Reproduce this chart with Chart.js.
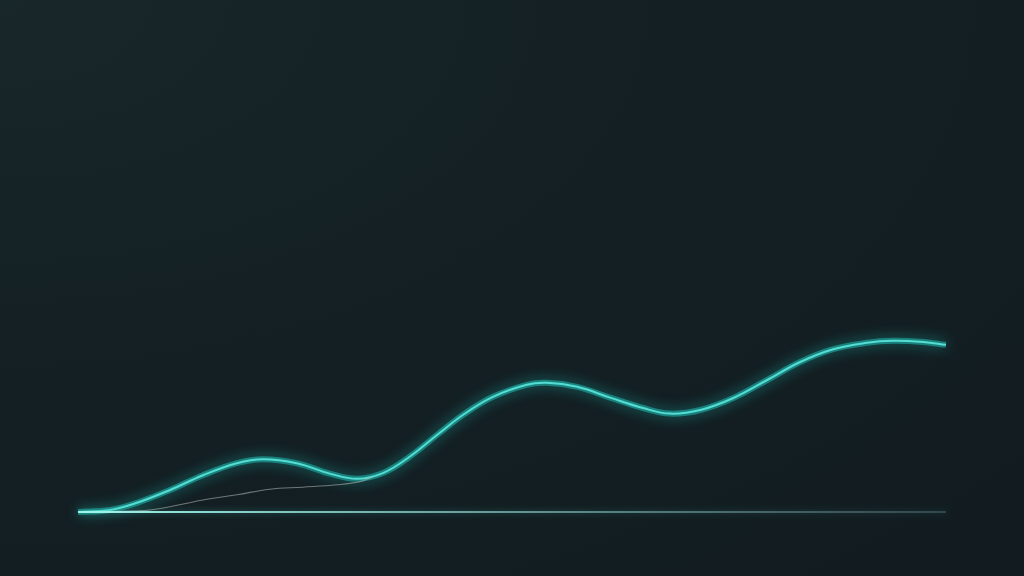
<!DOCTYPE html>
<html>
<head>
<meta charset="utf-8">
<script src="https://cdn.jsdelivr.net/npm/chart.js@4"></script>
<style>
  html, body { margin: 0; padding: 0; }
  body {
    width: 1024px; height: 576px; overflow: hidden;
    background: radial-gradient(ellipse at 0% 0%, #18272a 0%, #142024 40%, #121c20 100%);
  }
  #wrap { position: absolute; left: 0; top: 0; width: 1024px; height: 576px; }
</style>
</head>
<body>
<div id="wrap"><canvas id="chart"></canvas></div>
<script>
// main curve (x in 0..100 along the axis, y in value units)
const mainX = [0, 3.7, 6.8, 10.6, 14.4, 18.3, 21.3, 25.2, 29.0, 32.2, 35.2, 38.2, 41.5, 44.5, 47.8, 51.7, 54.0, 57.5, 61.3, 65.1, 68.2, 71.7, 75.5, 79.4, 83.2, 87.0, 90.9, 93.9, 97.4, 100];
const mainY = [0, 0.5, 2.3, 5.5, 9.2, 12.2, 13.2, 12.2, 9.6, 8.3, 9.8, 13.8, 19.5, 24.5, 28.8, 31.8, 32.3, 31.3, 28.6, 26.0, 24.6, 25.5, 28.5, 33.0, 37.5, 40.7, 42.3, 42.8, 42.5, 41.8];

// faint secondary curve
const subX = [0, 7.9, 14.4, 18.3, 22.1, 25.9, 29.8, 32.5, 34.0];
const subY = [0, 0.4, 3.0, 4.3, 5.7, 6.2, 6.8, 7.6, 8.8];

// baseline
const baseX = [0, 100];
const baseY = [0, 0];

const toPoints = (xs, ys) => xs.map((x, i) => ({x, y: ys[i]}));

const ctx = document.getElementById(`chart`);
const c2d = ctx.getContext(`2d`);

const baseGrad = c2d.createLinearGradient(78, 0, 946, 0);
baseGrad.addColorStop(0, `rgba(160, 245, 235, 1)`);
baseGrad.addColorStop(0.45, `rgba(140, 210, 205, 0.7)`);
baseGrad.addColorStop(1, `rgba(110, 140, 145, 0.35)`);

const glowPlugin = {
  id: `glow`,
  beforeDatasetDraw(chart, args) {
    const ds = chart.data.datasets[args.index];
    chart.ctx.save();
    if (ds.glow) {
      chart.ctx.shadowColor = ds.glow;
      chart.ctx.shadowBlur = ds.glowBlur || 10;
    }
  },
  afterDatasetDraw(chart) {
    chart.ctx.restore();
  }
};

new Chart(ctx, {
  type: `line`,
  plugins: [glowPlugin],
  data: {
    datasets: [
      {
        data: toPoints(baseX, baseY),
        borderColor: baseGrad,
        borderWidth: 2,
        pointRadius: 0,
        tension: 0,
        clip: false,
        glow: `rgba(60, 200, 190, 0.5)`,
        glowBlur: 6,
      },
      {
        data: toPoints(subX, subY),
        borderColor: `rgba(170, 180, 180, 0.6)`,
        borderWidth: 1.1,
        pointRadius: 0,
        tension: 0.4,
        clip: false,
      },
      {
        data: toPoints(mainX, mainY),
        borderColor: `rgba(30, 200, 190, 0.5)`,
        borderWidth: 6,
        pointRadius: 0,
        tension: 0.4,
        clip: false,
        glow: `rgba(30, 215, 205, 0.95)`,
        glowBlur: 14,
      },
      {
        data: toPoints(mainX, mainY),
        borderColor: `#a4f8ee`,
        borderWidth: 2,
        pointRadius: 0,
        tension: 0.4,
        clip: false,
      },
    ]
  },
  options: {
    responsive: true,
    maintainAspectRatio: false,
    animation: false,
    layout: {
      padding: {left: 78, right: 78, top: 0, bottom: 64}
    },
    plugins: {
      legend: {display: false},
      tooltip: {enabled: false},
    },
    scales: {
      x: {
        type: `linear`,
        min: 0,
        max: 100,
        display: false,
      },
      y: {
        min: 0,
        max: 128,
        display: false,
      },
    }
  }
});
</script>
</body>
</html>
